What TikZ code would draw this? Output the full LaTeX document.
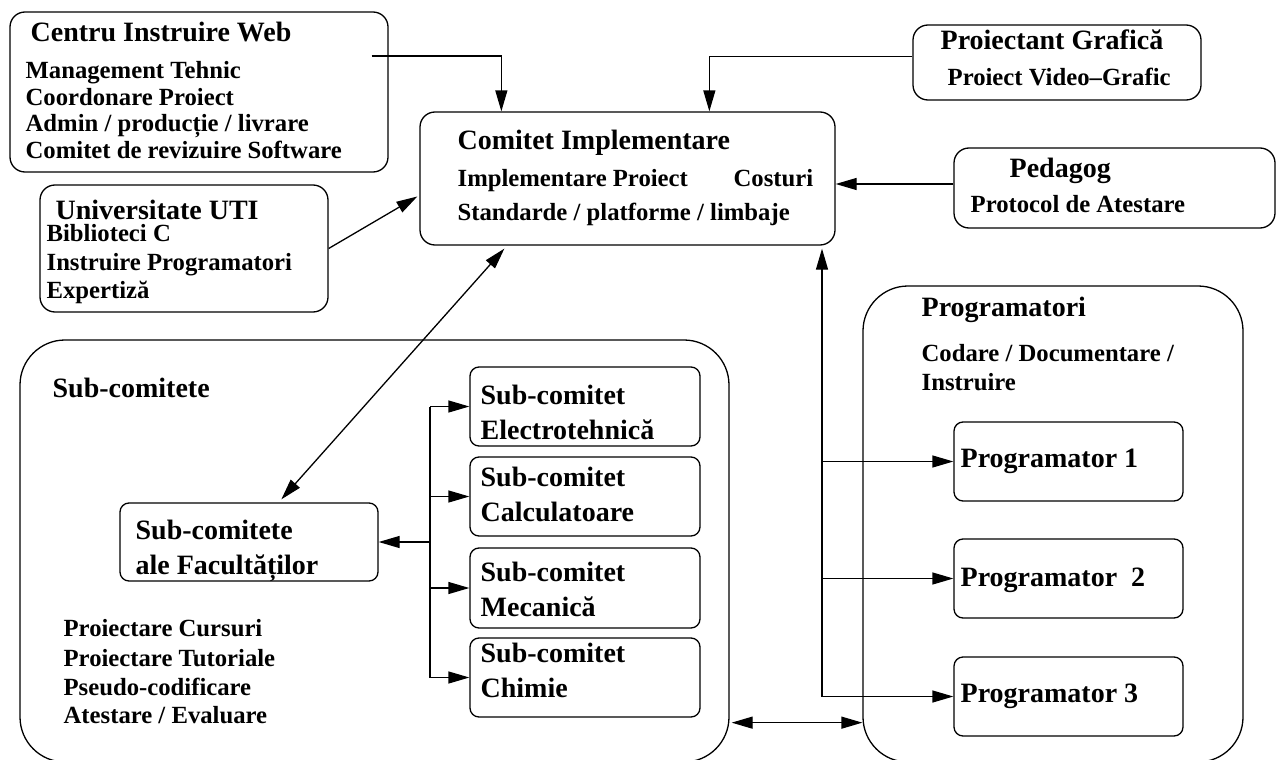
\documentclass[tikz,border=0pt]{standalone}
\usepackage{fontspec}
\setmainfont{Liberation Serif}
\usetikzlibrary{arrows.meta,calc}

\begin{document}
\begin{tikzpicture}[x=1pt, y=-1pt, line width=1.3pt,
	kotak/.style={draw, rounded corners=15pt, inner sep=0pt},
	kotakbesar/.style={draw, rounded corners=45pt, inner sep=0pt},
	kotakkecil/.style={draw, rounded corners=9pt, inner sep=0pt},
	judul/.style={anchor=base west, inner sep=0pt, font=\fontsize{28}{30}\selectfont\bfseries},
	isi/.style={anchor=base west, inner sep=0pt, font=\fontsize{24.7}{27}\selectfont\bfseries},
	panah/.style={-{Triangle[length=21pt,width=12pt]}},
	panahdua/.style={{Triangle[length=21pt,width=12pt]}-{Triangle[length=21pt,width=12pt]}}]
		\useasboundingbox (0,0) rectangle (1277,760);
		
		% Kotak utama
		\node[kotak, minimum width=378pt, minimum height=160pt] (centru) at (199,92) {};
		\node[kotak, minimum width=288pt, minimum height=127pt] (uti) at (184,248.5) {};
		\node[kotak, minimum width=415pt, minimum height=133pt] (kom) at (627.5,178.5) {};
		\node[kotak, minimum width=288pt, minimum height=75pt] (proi) at (1057,62.5) {};
		\node[kotak, minimum width=321pt, minimum height=80pt] (ped) at (1114.5,188) {};
		\node[kotakbesar, minimum width=380pt, minimum height=476pt] (prog) at (1053,524) {};
		\node[kotakbesar, minimum width=709pt, minimum height=422pt] (subkom) at (374.5,551) {};
		
		% Kotak di dalam
		\node[kotakkecil, minimum width=258pt, minimum height=78pt] (subfac) at (249,542) {};
		\node[kotakkecil, minimum width=230pt, minimum height=79pt] (s1) at (585,406.5) {};
		\node[kotakkecil, minimum width=230pt, minimum height=79pt] (s2) at (585,496.5) {};
		\node[kotakkecil, minimum width=230pt, minimum height=80pt] (s3) at (585,588) {};
		\node[kotakkecil, minimum width=230pt, minimum height=79pt] (s4) at (585,677.5) {};
		\node[kotakkecil, minimum width=229pt, minimum height=79pt] (p1) at (1068.5,461.5) {};
		\node[kotakkecil, minimum width=229pt, minimum height=79pt] (p2) at (1068.5,578.5) {};
		\node[kotakkecil, minimum width=229pt, minimum height=79pt] (p3) at (1068.5,696.5) {};
		
		% Teks
		\node[judul] (centru-j) at (30,42) {Centru Instruire Web};
		\node[isi] (centru-1) at (25,78) {Management Tehnic};
		\node[isi] (centru-2) at (25,105) {Coordonare Proiect};
		\node[isi] (centru-3) at (25,131) {Admin / producție / livrare};
		\node[isi] (centru-4) at (25,158) {Comitet de revizuire Software};
		\node[judul] (uti-j) at (55,219) {Universitate UTI};
		\node[isi] (uti-1) at (46,241) {Biblioteci C};
		\node[isi] (uti-2) at (46,270) {Instruire Programatori};
		\node[isi] (uti-3) at (46,298) {Expertiză};
		\node[judul] (kom-j) at (457,149) {Comitet Implementare};
		\node[isi] (kom-1) at (457,186) {Implementare Proiect};
		\node[isi] (kom-2) at (733,186) {Costuri};
		\node[isi] (kom-3) at (457,220) {Standarde / platforme / limbaje};
		\node[judul] (proi-j) at (940,49) {Proiectant Grafică};
		\node[isi] (proi-1) at (947,85) {Proiect Video–Grafic};
		\node[judul] (ped-j) at (1009,177) {Pedagog};
		\node[isi] (ped-1) at (970,212) {Protocol de Atestare};
		\node[judul] (prog-j) at (921,316) {Programatori};
		\node[isi] (prog-1) at (921,361) {Codare / Documentare /};
		\node[isi] (prog-2) at (921,390) {Instruire};
		\node[judul] (p1-t) at (960,467) {Programator 1};
		\node[judul] (p2-t) at (960,586) {Programator\ \ 2};
		\node[judul] (p3-t) at (960,702) {Programator 3};
		\node[judul] (subkom-j) at (52,397) {Sub-comitete};
		\node[judul] (subfac-1) at (135,539) {Sub-comitete};
		\node[judul] (subfac-2) at (135,574) {ale Facultăților};
		\node[judul] (s1-1) at (480,404) {Sub-comitet};
		\node[judul] (s1-2) at (480,439) {Electrotehnică};
		\node[judul] (s2-1) at (480,486) {Sub-comitet};
		\node[judul] (s2-2) at (480,521) {Calculatoare};
		\node[judul] (s3-1) at (480,581) {Sub-comitet};
		\node[judul] (s3-2) at (480,616) {Mecanică};
		\node[judul] (s4-1) at (480,662) {Sub-comitet};
		\node[judul] (s4-2) at (480,697) {Chimie};
		\node[isi] (subkom-1) at (63,636) {Proiectare Cursuri};
		\node[isi] (subkom-2) at (63,666) {Proiectare Tutoriale};
		\node[isi] (subkom-3) at (63,695) {Pseudo-codificare};
		\node[isi] (subkom-4) at (63,723) {Atestare / Evaluare};
		
		% Koneksi ke komitet
		\draw[panah] ($(centru.east)+(-17,-36)$) -| ($(kom.north west)+(82,0)$);
		\draw[panah] ($(proi.west)+(0,-6)$) -| ($(kom.north west)+(290,0)$);
		\coordinate (pw) at ($(ped.west)+(0,-4)$);
		\draw[panah] (pw) -- (pw -| kom.east);
		\draw[panah] (uti.east) -- ($(kom.west)+(-2,18)$);
		\draw[panahdua] ($(kom.south west)+(85,3)$) -- ($(subfac.north west)+(162,-3)$);
		
		% Jalur programator
		\coordinate (busp) at (822,0);
		\draw[panah] (p3.west -| busp) -- ($(kom.south -| busp)+(0,3)$);
		\foreach \p in {p1,p2,p3}
			\draw[panah] (\p.west -| busp) -- (\p.west);
		
		% Jalur sub-comitet
		\coordinate (buss) at (430,0);
		\draw (s1.west -| buss) -- (s4.west -| buss);
		\foreach \s in {s1,s2,s3,s4}
			\draw[panah] (\s.west -| buss) -- (\s.west);
		\draw[panah] (subfac.east -| buss) -- (subfac.east);
		
		\coordinate (dk) at ($(subkom.south east)+(2,-40)$);
		\draw[panahdua] (dk) -- (dk -| prog.west);
		
	\end{tikzpicture}
\end{document}
